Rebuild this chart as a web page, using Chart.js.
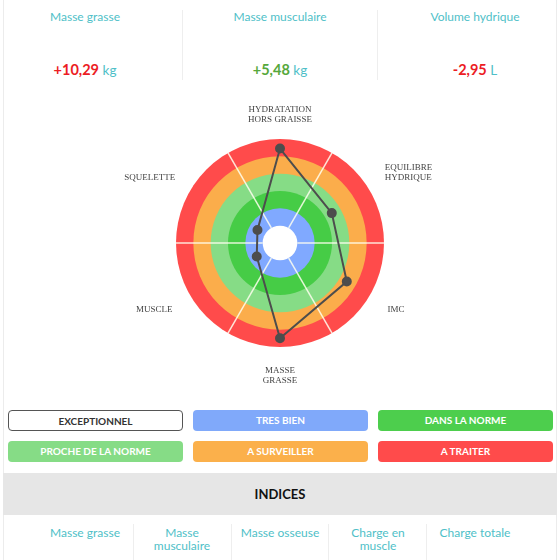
<!DOCTYPE html>
<html lang="fr">
<head>
<meta charset="UTF-8">
<title>Bilan radar</title>
<script src="https://cdn.jsdelivr.net/npm/chart.js"></script>
<style>
  html, body { margin: 0; padding: 0; background: #fff; }
  body { width: 560px; height: 560px; position: relative; overflow: hidden; font-family: Lato, "Open Sans", sans-serif; }
  .card { position: absolute; left: 3px; right: 3px; top: 0; bottom: 0; border-left: 1px solid #ececec; border-right: 1px solid #ececec; }
  .abs { position: absolute; text-align: center; }
  .sep { position: absolute; width: 1px; background: #eeeeee; }
  .teal { color: #4fbfc8; }
  .top-label { font-size: 12px; width: 180px; top: 9px; }
  .top-value { font-size: 14.5px; width: 180px; top: 61px; font-weight: 700; }
  .top-value .unit { font-weight: 400; font-size: 13.5px; color: #4fbfc8; }
  .btn { position: absolute; height: 21px; line-height: 21px; border-radius: 4px; text-align: center;
         font-size: 10px; font-weight: 700; color: #fff; box-sizing: border-box; width: 175px; }
  .band { position: absolute; left: 3px; right: 3px; top: 473px; height: 42px; background: #e6e6e6;
          text-align: center; line-height: 42px; font-size: 13px; font-weight: 700; color: #111; }
  .idx { font-size: 12px; width: 96px; top: 526px; line-height: 13px; }
  #radarBox { position: absolute; left: 0; top: 103px; width: 560px; height: 286px; }
</style>
</head>
<body>
<div class="card"></div>

<div class="abs top-label teal" style="left:-5px">Masse grasse</div>
<div class="abs top-label teal" style="left:190px">Masse musculaire</div>
<div class="abs top-label teal" style="left:385px">Volume hydrique</div>
<div class="sep" style="left:182px; top:10px; height:70px"></div>
<div class="sep" style="left:377px; top:10px; height:70px"></div>
<div class="abs top-value" style="left:-5px"><span style="color:#ec1c24">+10,29</span> <span class="unit">kg</span></div>
<div class="abs top-value" style="left:190px"><span style="color:#56a83c">+5,48</span> <span class="unit">kg</span></div>
<div class="abs top-value" style="left:385px"><span style="color:#ec1c24">-2,95</span> <span class="unit">L</span></div>

<div id="radarBox"><canvas id="radarChart"></canvas></div>

<div class="btn" style="left:8px; top:410px; background:#fff; color:#333; border:1.5px solid #555">EXCEPTIONNEL</div>
<div class="btn" style="left:193px; top:410px; background:#80a9fa">TRES BIEN</div>
<div class="btn" style="left:378px; top:410px; background:#4dce4d">DANS LA NORME</div>
<div class="btn" style="left:8px; top:441px; background:#86dc86">PROCHE DE LA NORME</div>
<div class="btn" style="left:193px; top:441px; background:#fbb04b">A SURVEILLER</div>
<div class="btn" style="left:378px; top:441px; background:#ff4b4b">A TRAITER</div>

<div class="band">INDICES</div>
<div class="abs idx teal" style="left:37px">Masse grasse</div>
<div class="abs idx teal" style="left:134px">Masse<br>musculaire</div>
<div class="abs idx teal" style="left:232px">Masse osseuse</div>
<div class="abs idx teal" style="left:330px">Charge en<br>muscle</div>
<div class="abs idx teal" style="left:427px">Charge totale</div>
<div class="sep" style="left:133px; top:524px; height:36px"></div>
<div class="sep" style="left:231px; top:524px; height:36px"></div>
<div class="sep" style="left:328px; top:524px; height:36px"></div>
<div class="sep" style="left:426px; top:524px; height:36px"></div>

<script>
// axes, clockwise from the top
const axisLabels = [
    ['HYDRATATION', 'HORS GRAISSE'],
    ['EQUILIBRE', 'HYDRIQUE'],
    'IMC',
    ['MASSE', 'GRASSE'],
    'MUSCLE',
    'SQUELETTE'
];
const scores = [5.45, 3.45, 4.45, 5.5, 1.55, 1.5];

// rings: outer limit of each band on the radial scale
const bandLimits = [6, 5, 4, 3, 2, 1];
const bandColors = ['#ff4b4b', '#fbad4b', '#86dc86', '#46cc46', '#80a9ff', '#ffffff'];

const labelPadding = [14, 17, 20, 19, 20, 17];

const ringsPlugin = {
    id: 'ringsPlugin',
    beforeDatasetsDraw: (chart) => {
        const ctx = chart.ctx;
        const r = chart.scales.r;
        ctx.save();
        bandLimits.forEach((limit, i) => {
            ctx.beginPath();
            ctx.arc(r.xCenter, r.yCenter, r.getDistanceFromCenterForValue(limit), 0, Math.PI * 2);
            ctx.fillStyle = bandColors[i];
            ctx.fill();
        });
        // white dividers between the sectors
        const inner = r.getDistanceFromCenterForValue(bandLimits[bandLimits.length - 1]);
        const outer = r.getDistanceFromCenterForValue(bandLimits[0]);
        ctx.strokeStyle = 'rgba(255, 255, 240, 0.85)';
        ctx.lineWidth = 1.5;
        for (let i = 0; i < axisLabels.length; i++) {
            const a = r.getPointPosition(i + 0.5, inner);
            const b = r.getPointPosition(i + 0.5, outer);
            ctx.beginPath();
            ctx.moveTo(a.x, a.y);
            ctx.lineTo(b.x, b.y);
            ctx.stroke();
        }
        ctx.restore();
    }
};

new Chart(document.getElementById('radarChart'), {
    type: 'radar',
    data: {
        labels: axisLabels,
        datasets: [{
            data: scores,
            borderColor: '#4d4d4d',
            borderWidth: 2,
            pointBackgroundColor: '#4d4d4d',
            pointBorderColor: '#4d4d4d',
            pointRadius: 4,
            fill: false,
            tension: 0
        }]
    },
    options: {
        animation: false,
        responsive: true,
        maintainAspectRatio: false,
        layout: { padding: 0 },
        plugins: {
            legend: { display: false },
            tooltip: { enabled: false }
        },
        scales: {
            r: {
                min: 0,
                max: 6,
                ticks: { display: false, stepSize: 1 },
                grid: { display: false },
                angleLines: { display: false },
                pointLabels: {
                    color: '#444',
                    font: { family: '"Liberation Serif", "DejaVu Serif", serif', size: 9, lineHeight: '10px' },
                    padding: (ctx) => labelPadding[ctx.index]
                }
            }
        }
    },
    plugins: [ringsPlugin]
});
</script>
</body>
</html>
